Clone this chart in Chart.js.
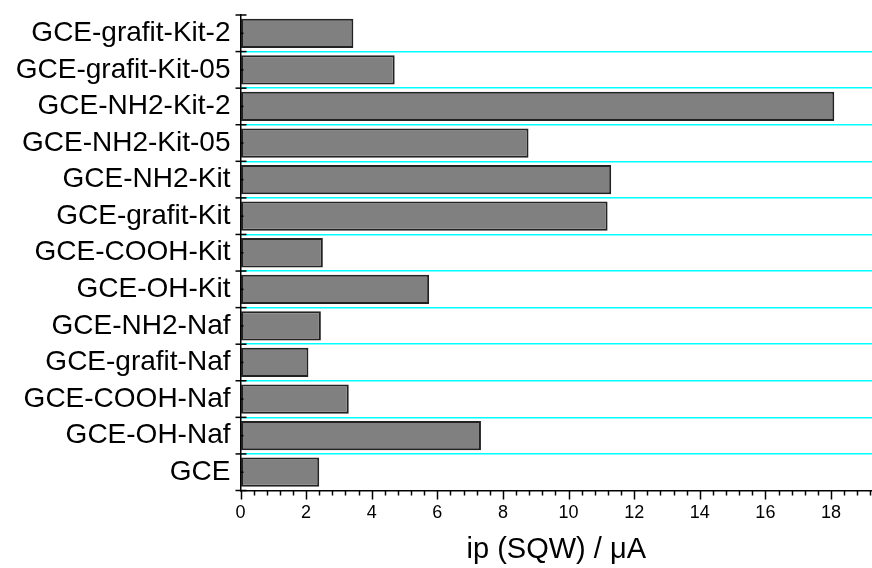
<!DOCTYPE html>
<html>
<head>
<meta charset="utf-8">
<script src="https://cdn.jsdelivr.net/npm/chart.js@4/dist/chart.umd.min.js"></script>
<style>
  html, body { margin: 0; padding: 0; background: #fff; }
  #wrap { width: 872px; height: 568px; }
</style>
</head>
<body>
<div id="wrap"><canvas id="ipChart" width="872" height="568"></canvas></div>
<script>
// electrodes, top to bottom as in the figure
const electrodes = [
  "GCE-grafit-Kit-2", "GCE-grafit-Kit-05", "GCE-NH2-Kit-2", "GCE-NH2-Kit-05",
  "GCE-NH2-Kit", "GCE-grafit-Kit", "GCE-COOH-Kit", "GCE-OH-Kit",
  "GCE-NH2-Naf", "GCE-grafit-Naf", "GCE-COOH-Naf", "GCE-OH-Naf", "GCE"
];

// peak current ip (SQW) in µA
const ipValues = [3.44, 4.70, 18.10, 8.78, 11.30, 11.19, 2.51, 5.75, 2.45, 2.07, 3.30, 7.33, 2.40];

const xMin = 0;
const xMax = 19.25;
const xMajorStep = 2;
const xMinorStep = 0.4;
const axisTitle = "ip (SQW) / \u03bcA";

// tick marks like the original (major/minor, crossing the y axis)
const tickMarks = {
  id: "tickMarks",
  afterDraw(chart) {
    const { ctx, scales: { x, y } } = chart;
    ctx.save();
    ctx.strokeStyle = "#000";
    ctx.lineWidth = 1.5;

    // x axis: major every 2, minor every 0.4
    const y0 = chart.chartArea.bottom;
    const nMinor = Math.floor((xMax - xMin) / xMinorStep + 1e-6);
    for (let i = 0; i <= nMinor; i++) {
      const v = xMin + i * xMinorStep;
      const px = Math.round(x.getPixelForValue(v)) + 0.5;
      const len = i % 5 === 0 ? 9 : 5;
      ctx.beginPath();
      ctx.moveTo(px, y0);
      ctx.lineTo(px, y0 + len);
      ctx.stroke();
    }

    // y axis: major at category boundaries, minor at centres
    const x0 = chart.chartArea.left;
    for (let i = 0; i <= electrodes.length; i++) {
      const py = y.getPixelForValue(i - 0.5);
      ctx.beginPath();
      ctx.moveTo(x0 - 5, py);
      ctx.lineTo(x0 + 6, py);
      ctx.stroke();
    }
    for (let i = 0; i < electrodes.length; i++) {
      const py = y.getPixelForValue(i);
      ctx.beginPath();
      ctx.moveTo(x0, py);
      ctx.lineTo(x0 + 3, py);
      ctx.stroke();
    }
    ctx.restore();
  }
};

const ctx = document.getElementById("ipChart").getContext("2d");

new Chart(ctx, {
  type: "bar",
  data: {
    labels: electrodes,
    datasets: [{
      data: ipValues,
      backgroundColor: "#808080",
      borderColor: "#222",
      borderWidth: 2,
      borderSkipped: false,
      barPercentage: 0.8,
      categoryPercentage: 1.0
    }]
  },
  options: {
    indexAxis: "y",
    responsive: false,
    animation: false,
    devicePixelRatio: 1,
    layout: { padding: 0 },
    plugins: {
      legend: { display: false },
      tooltip: { enabled: false }
    },
    scales: {
      x: {
        type: "linear",
        min: xMin,
        max: xMax,
        grid: { drawOnChartArea: false, drawTicks: false },
        border: { display: true, color: "#000", width: 1.5 },
        ticks: {
          stepSize: xMajorStep,
          includeBounds: false,
          padding: 12,
          color: "#000",
          font: { family: "'Liberation Sans', Arial, sans-serif", size: 18 }
        },
        title: {
          display: true,
          text: axisTitle,
          color: "#000",
          padding: { top: 0, bottom: 1 },
          font: { family: "'Liberation Sans', Arial, sans-serif", size: 29 }
        },
        afterFit(scale) { scale.height = 77.5; }
      },
      y: {
        type: "category",
        offset: true,
        grid: {
          offset: true,
          drawTicks: false,
          lineWidth: 1.5,
          color: (c) => (c.type === "tick" && c.index > 0) ? "#00ffff" : "rgba(0,0,0,0)"
        },
        border: { display: true, color: "#000", width: 1.5 },
        ticks: {
          padding: 10,
          color: "#000",
          autoSkip: false,
          // small lineHeight keeps the plot top close to the canvas edge
          font: { family: "'Liberation Sans', Arial, sans-serif", size: 28, lineHeight: "10px" }
        },
        afterFit(scale) { scale.width = 240.5; }
      }
    }
  },
  plugins: [tickMarks]
});
</script>
</body>
</html>
